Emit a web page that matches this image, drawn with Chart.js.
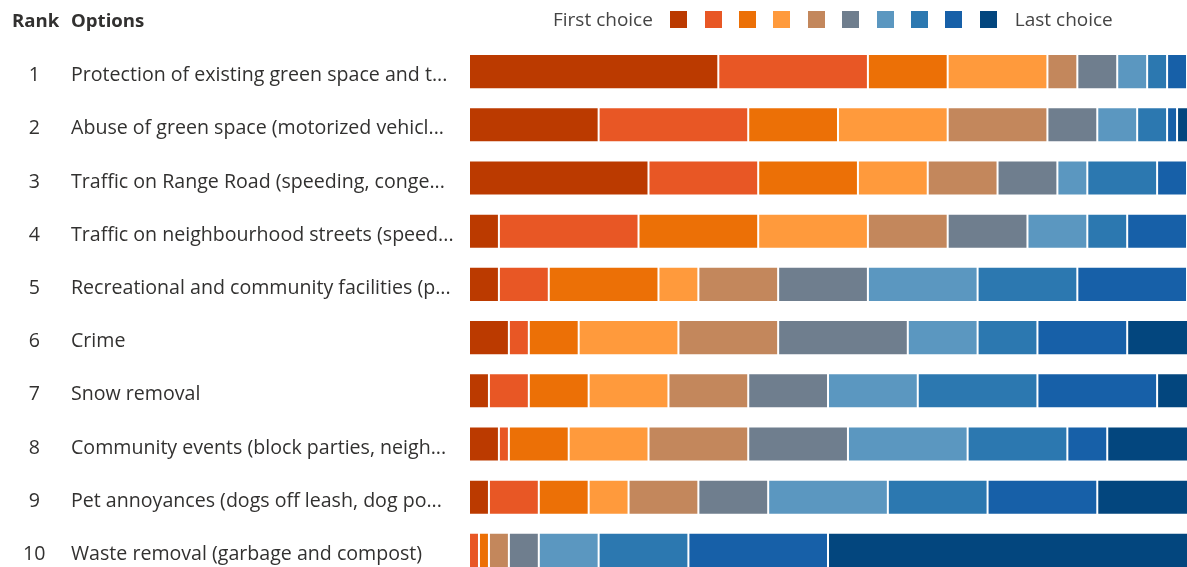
<!DOCTYPE html>
<html><head><meta charset="utf-8">
<script src="https://cdn.jsdelivr.net/npm/chart.js@4.4.1/dist/chart.umd.min.js"></script>
<style>
html,body{margin:0;padding:0;background:#fff;overflow:hidden;width:1187px;height:567px;}
#wrap{position:absolute;left:0;top:0;width:1197px;height:577px;}
.hdr{position:absolute;top:8px;font:bold 18.6px "Open Sans",sans-serif;color:#323130;line-height:24px;}
#legend{position:absolute;top:7px;left:553px;display:flex;align-items:center;font:19px "Open Sans",sans-serif;color:#444;line-height:24px;white-space:nowrap;}
.sw{width:17px;height:17px;margin-left:17.4px;}
#lastLbl{margin-left:18px;}
</style></head>
<body>
<div id="wrap"><canvas id="c"></canvas></div>
<div class="hdr" style="left:12px">Rank</div>
<div class="hdr" style="left:71px">Options</div>
<div id="legend"></div>
<script>
// ---- data ----
const rankLabels = ["1","2","3","4","5","6","7","8","9","10"];
const optionLabels = [
  "Protection of existing green space and t...",
  "Abuse of green space (motorized vehicl...",
  "Traffic on Range Road (speeding, conge...",
  "Traffic on neighbourhood streets (speed...",
  "Recreational and community facilities (p...",
  "Crime",
  "Snow removal",
  "Community events (block parties, neigh...",
  "Pet annoyances (dogs off leash, dog po...",
  "Waste removal (garbage and compost)"
];
const legendFirst = "First choice";
const legendLast = "Last choice";
// number of respondents placing each option at each rank (choice1 = first choice ... choice10 = last choice)
const choice1  = [25,13,18, 3, 3, 4, 2, 3, 2, 0];
const choice2  = [15,15,11,14, 5, 2, 4, 1, 5, 1];
const choice3  = [ 8, 9,10,12,11, 5, 6, 6, 5, 1];
const choice4  = [10,11, 7,11, 4,10, 8, 8, 4, 0];
const choice5  = [ 3,10, 7, 8, 8,10, 8,10, 7, 2];
const choice6  = [ 4, 5, 6, 8, 9,13, 8,10, 7, 3];
const choice7  = [ 3, 4, 3, 6,11, 7, 9,12,12, 6];
const choice8  = [ 2, 3, 7, 4,10, 6,12,10,10, 9];
const choice9  = [ 2, 1, 3, 6,11, 9,12, 4,11,14];
const choice10 = [ 1, 2, 1, 1, 1, 7, 4, 9,10,37];
const respondents = 73;
const colors = ["#bb3a00","#e85725","#ec7006","#ff9a3c","#c3875c","#6f7e8e","#5b97c0","#2c78b0","#1760a8","#03467e"];

const series = [choice1,choice2,choice3,choice4,choice5,choice6,choice7,choice8,choice9,choice10];

// ---- legend (HTML) ----
const lg = document.getElementById('legend');
const f = document.createElement('span'); f.textContent = legendFirst; lg.appendChild(f);
colors.forEach(c => { const d = document.createElement('div'); d.className='sw'; d.style.background=c; lg.appendChild(d); });
const l = document.createElement('span'); l.id='lastLbl'; l.textContent = legendLast; lg.appendChild(l);

// ---- chart ----
const labelFont = {family:"'Open Sans', sans-serif", size:19.6};
const noPad = s => { s.paddingTop = 0; s.paddingBottom = 0; };
new Chart(document.getElementById('c'), {
  type: 'bar',
  data: {
    labels: optionLabels,
    datasets: series.map((s,i) => ({
      label: 'Rank ' + (i+1),
      data: s,
      backgroundColor: colors[i],
      borderColor: '#ffffff',
      borderWidth: 1,
      borderSkipped: false,
      barPercentage: 0.66,
      categoryPercentage: 1
    }))
  },
  options: {
    indexAxis: 'y',
    responsive: true,
    maintainAspectRatio: false,
    animation: false,
    layout: {padding: {top: 45, right: 0, bottom: 0, left: 0}},
    plugins: {legend: {display: false}, tooltip: {enabled: false}},
    scales: {
      x: {stacked: true, min: 0, max: respondents, display: false},
      y: {
        stacked: true, offset: true, weight: 0,
        grid: {display: false, drawTicks: false}, border: {display: false},
        ticks: {autoSkip: false, crossAlign: 'far', padding: 0, labelOffset: 4, color: '#323130', font: labelFont},
        afterFit: s => { s.width = 398; noPad(s); }
      },
      yr: {
        type: 'category', position: 'left', labels: rankLabels, offset: true, weight: 10,
        grid: {display: false, drawTicks: false}, border: {display: false},
        ticks: {autoSkip: false, crossAlign: 'center', padding: 25.5, labelOffset: 4, color: '#323130', font: labelFont},
        afterFit: s => { s.width = 71; noPad(s); }
      }
    }
  }
});
</script>
</body></html>
